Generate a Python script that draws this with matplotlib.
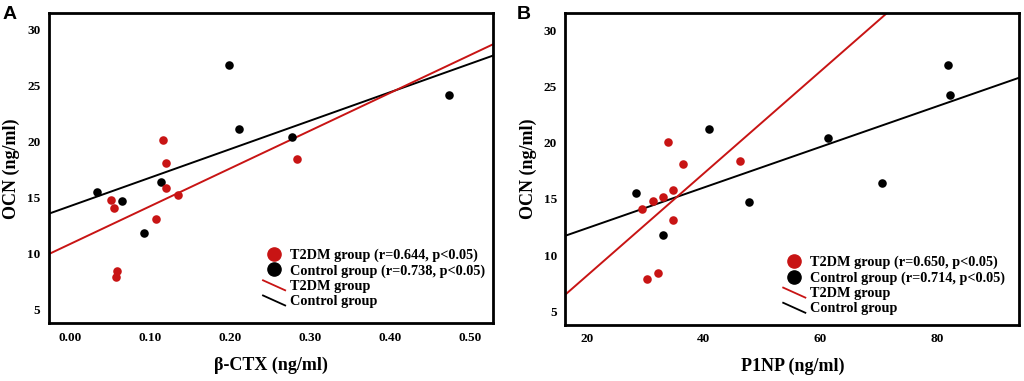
import matplotlib
matplotlib.use("Agg")
import matplotlib.pyplot as plt
import numpy as np
from matplotlib.lines import Line2D
from matplotlib.legend_handler import HandlerBase

# ---------------- data ----------------
# Panel A: beta-CTX vs OCN
a_t2dm_x = [0.051, 0.055, 0.059, 0.057, 0.107, 0.116, 0.120, 0.120, 0.135, 0.283]
a_t2dm_y = [14.8, 14.1, 8.45, 7.9, 13.1, 20.1, 18.1, 15.8, 15.2, 18.4]
a_ctrl_x = [0.033, 0.065, 0.092, 0.114, 0.199, 0.211, 0.277, 0.474]
a_ctrl_y = [15.45, 14.7, 11.8, 16.4, 26.85, 21.15, 20.4, 24.15]
a_t2dm_fit = [10.85, 33.7]    # intercept, slope
a_ctrl_fit = [14.23, 25.4]

# Panel B: P1NP vs OCN
b_t2dm_x = [29.4, 31.2, 33.0, 33.9, 34.7, 34.7, 36.5, 46.2, 30.3, 32.1]
b_t2dm_y = [14.1, 14.8, 15.2, 20.1, 15.8, 13.1, 18.1, 18.4, 7.9, 8.4]
b_ctrl_x = [28.3, 33.0, 40.9, 47.7, 61.2, 70.6, 81.9, 82.1]
b_ctrl_y = [15.5, 11.8, 21.2, 14.7, 20.4, 16.4, 26.9, 24.2]
b_t2dm_fit = [-0.85, 0.4533]
b_ctrl_fit = [8.81, 0.1803]

a_xticks = [0.0, 0.1, 0.2, 0.3, 0.4, 0.5]
a_xticklabels = ["0.00", "0.10", "0.20", "0.30", "0.40", "0.50"]
b_xticks = [20, 40, 60, 80]
y_ticks = [5, 10, 15, 20, 25, 30]

a_labels = ["T2DM group (r=0.644, p<0.05)", "Control group (r=0.738, p<0.05)",
            "T2DM group", "Control group"]
b_labels = ["T2DM group (r=0.650, p<0.05)", "Control group (r=0.714, p<0.05)",
            "T2DM group", "Control group"]

RED = "#c81414"
BLACK = "#000000"
SERIF = "Liberation Serif"


class DiagHandler(HandlerBase):
    def create_artists(self, legend, orig_handle, xdescent, ydescent,
                       width, height, fontsize, trans):
        x0 = -xdescent
        y0 = -ydescent
        ln = Line2D([x0, x0 + width], [y0 + height * 0.95, y0 - height * 0.05],
                    color=orig_handle.get_color(), lw=orig_handle.get_linewidth())
        ln.set_transform(trans)
        return [ln]


fig = plt.figure(figsize=(10.24, 3.81), dpi=100)

def panel(rect, tx, ty, cx, cy, tfit, cfit, xlim, ylim, xticks, xticklabels,
          xlabel, labels, letter, letter_x, leg_anchor):
    ax = fig.add_axes(rect)
    ax.set_xlim(*xlim)
    ax.set_ylim(*ylim)
    xs = np.array(xlim)
    ax.plot(xs, cfit[0] + cfit[1] * xs, color=BLACK, lw=1.4, zorder=2)
    ax.plot(xs, tfit[0] + tfit[1] * xs, color=RED, lw=1.4, zorder=2)
    ax.scatter(cx, cy, s=38, color=BLACK, zorder=3, linewidths=0)
    ax.scatter(tx, ty, s=38, color=RED, zorder=3, linewidths=0)
    for s in ax.spines.values():
        s.set_linewidth(2.0)
    ax.set_xticks(xticks)
    ax.set_xticklabels(xticklabels)
    ax.set_yticks(y_ticks)
    ax.tick_params(length=0)
    for lab in ax.get_xticklabels() + ax.get_yticklabels():
        lab.set_fontfamily(SERIF)
        lab.set_fontweight("bold")
        lab.set_fontsize(9.5)
    ax.tick_params(axis="x", pad=6)
    ax.tick_params(axis="y", pad=6)
    ax.set_xlabel(xlabel, fontfamily=SERIF, fontweight="bold", fontsize=13, labelpad=9)
    ax.set_ylabel("OCN (ng/ml)", fontfamily=SERIF, fontweight="bold", fontsize=13, labelpad=5)
    handles = [
        Line2D([], [], marker="o", ls="none", color=RED, markersize=9.5),
        Line2D([], [], marker="o", ls="none", color=BLACK, markersize=9.5),
        Line2D([], [], color=RED, lw=1.3),
        Line2D([], [], color=BLACK, lw=1.3),
    ]
    hm = {handles[2]: DiagHandler(), handles[3]: DiagHandler()}
    ax.legend(handles, labels, loc="lower left", bbox_to_anchor=leg_anchor,
              frameon=False, handler_map=hm, handlelength=1.55,
              handletextpad=0.35, labelspacing=0.15, borderpad=0, borderaxespad=0,
              prop={"family": SERIF, "weight": "bold", "size": 10.3})
    fig.text(letter_x, 0.985, letter, fontfamily="Liberation Sans", fontweight="bold",
             fontsize=14, ha="left", va="top")
    return ax

panel([0.0476, 0.151, 0.4341, 0.814], a_t2dm_x, a_t2dm_y, a_ctrl_x, a_ctrl_y,
      a_t2dm_fit, a_ctrl_fit, (-0.027, 0.529), (3.75, 31.43), a_xticks, a_xticklabels,
      "β-CTX (ng/ml)", a_labels, "A", 0.002, (0.482, 0.05))

panel([0.552, 0.148, 0.4434, 0.817], b_t2dm_x, b_t2dm_y, b_ctrl_x, b_ctrl_y,
      b_t2dm_fit, b_ctrl_fit, (16.23, 94.06), (3.85, 31.48), b_xticks,
      [str(v) for v in b_xticks],
      "P1NP (ng/ml)", b_labels, "B", 0.505, (0.48, 0.03))

fig.savefig("out.png", dpi=100)
